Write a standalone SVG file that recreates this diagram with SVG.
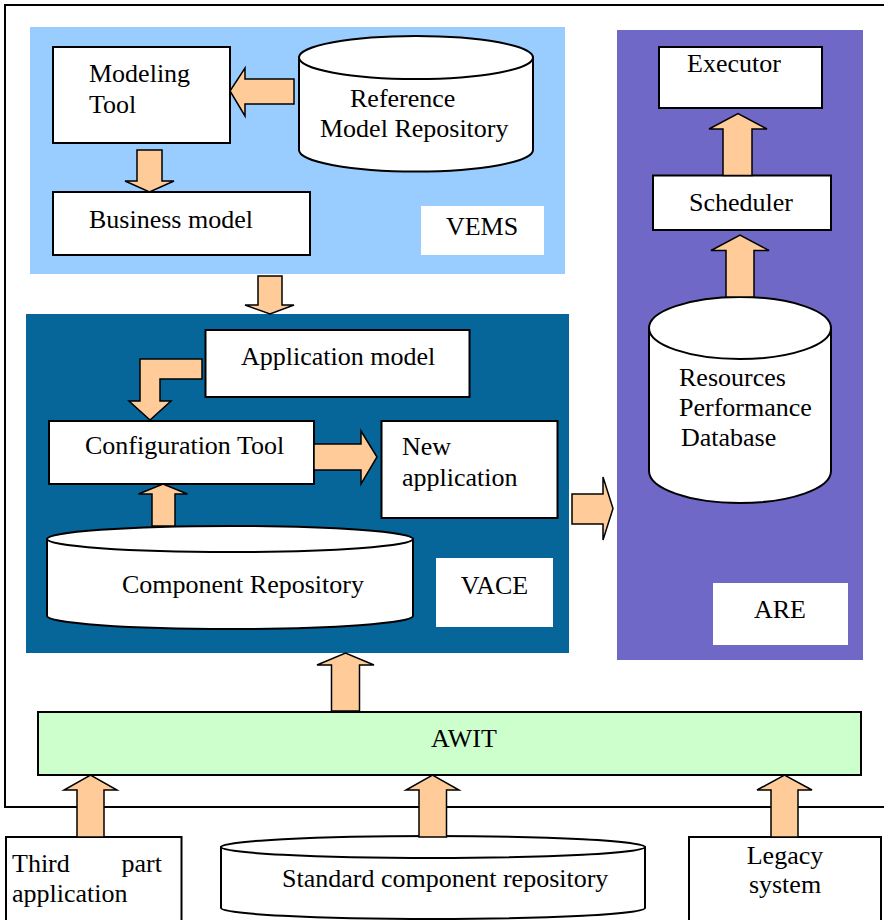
<svg xmlns="http://www.w3.org/2000/svg" width="884" height="920" viewBox="0 0 884 920" font-family="'Liberation Serif', 'DejaVu Serif', serif">
<style>
text{font-family:'Liberation Serif','DejaVu Serif',serif;font-size:26px;fill:#000}
.box{fill:#fff;stroke:#000;stroke-width:2}
.lbl{fill:#fff;stroke:none}
.cyl{fill:#fff;stroke:#000;stroke-width:2}
.arr{fill:#FFCC99;stroke:#000;stroke-width:1.5;stroke-linejoin:miter}
.c{text-anchor:middle}
</style>
<rect width="884" height="920" fill="#fff"/>
<g id="frame"><rect x="5" y="5" width="900" height="802" fill="none" stroke="#000" stroke-width="2"/></g>
<g id="VEMS">
<rect x="30" y="27" width="535" height="247" fill="#99CCFF"/>
<rect class="lbl" x="421" y="206" width="123" height="49"/>
<text class="c" x="482" y="235">VEMS</text>
</g>
<g id="VACE">
<rect x="26" y="314" width="543" height="339" fill="#066699"/>
<rect class="lbl" x="436" y="558" width="117" height="69"/>
<text class="c" x="494.5" y="594">VACE</text>
</g>
<g id="ARE">
<rect x="617" y="30" width="246" height="630" fill="#6F68C6"/>
<rect class="lbl" x="713" y="583" width="135" height="62"/>
<text class="c" x="780" y="618">ARE</text>
</g>
<g id="modeling-tool">
<rect class="box" x="53" y="47" width="177" height="96"/>
<text x="89" y="82">Modeling</text>
<text x="89" y="113">Tool</text>
</g>
<g id="reference-model-repository">
<path class="cyl" d="M299,57.5 L299,150 A117,21.5 0 0 0 533,150 L533,57.5 Z"/>
<ellipse class="cyl" cx="416" cy="57.5" rx="117" ry="21.5"/>
<text x="350" y="107">Reference</text>
<text x="320" y="137">Model Repository</text>
</g>
<g id="business-model">
<rect class="box" x="53" y="192" width="257" height="63"/>
<text x="89" y="228">Business model</text>
</g>
<g id="application-model">
<rect class="box" x="205.5" y="330" width="264" height="67"/>
<text x="241" y="365">Application model</text>
</g>
<g id="configuration-tool">
<rect class="box" x="49" y="421" width="265" height="63"/>
<text x="85" y="454">Configuration Tool</text>
</g>
<g id="new-application">
<rect class="box" x="381.5" y="421" width="176" height="97"/>
<text x="402" y="455">New</text>
<text x="402" y="486">application</text>
</g>
<g id="component-repository">
<path class="cyl" d="M47,539 L47,616 A183,13 0 0 0 413,616 L413,539 Z"/>
<ellipse class="cyl" cx="230" cy="539" rx="183" ry="13"/>
<text x="122" y="593">Component Repository</text>
</g>
<g id="executor">
<rect class="box" x="659" y="47" width="163" height="61"/>
<text x="687" y="71.5">Executor</text>
</g>
<g id="scheduler">
<rect class="box" x="653" y="175.5" width="178" height="54.5"/>
<text x="689" y="211">Scheduler</text>
</g>
<g id="resources-performance-database">
<path class="cyl" d="M649,328 L649,471 A91,32 0 0 0 831,471 L831,328 Z"/>
<ellipse class="cyl" cx="740" cy="328" rx="91" ry="31"/>
<text x="679" y="386">Resources</text>
<text x="679" y="416">Performance</text>
<text x="681" y="446">Database</text>
</g>
<g id="AWIT">
<rect x="38" y="712" width="823" height="63" fill="#CCFFCC" stroke="#000" stroke-width="2"/>
<text class="c" x="464" y="747">AWIT</text>
</g>
<g id="third-part-application">
<rect class="box" x="6" y="837" width="175.5" height="90"/>
<text x="12" y="872">Third</text>
<text x="162" y="872" text-anchor="end">part</text>
<text x="12" y="902">application</text>
</g>
<g id="standard-component-repository">
<path class="cyl" d="M221,847 L221,908 A212,11 0 0 0 645,908 L645,847 Z"/>
<ellipse class="cyl" cx="433" cy="847" rx="212" ry="11"/>
<text x="282" y="887">Standard component repository</text>
</g>
<g id="legacy-system">
<rect class="box" x="689" y="837" width="192" height="90"/>
<text class="c" x="785" y="864">Legacy</text>
<text class="c" x="785" y="893">system</text>
</g>
<g id="connectors">
<polygon class="arr" points="294,79 245,79 245,68 230,91 245,116 245,104 294,104"/>
<polygon class="arr" points="137,150 162,150 162,181 174,181 149.5,192 125,181 137,181"/>
<polygon class="arr" points="258,276 282,276 282,305 294,305 270,314 245,305 258,305"/>
<polygon class="arr" points="202,359 140,359 140,401 129,401 150,420 171,401 160,401 160,379 202,379"/>
<polygon class="arr" points="314,444 361,444 361,431 377,457 361,484 361,470 314,470"/>
<polygon class="arr" points="152,526 152,494 138.5,494 163,484 187.5,494 175,494 175,526"/>
<polygon class="arr" points="572,494 603,494 603,477 613,508.5 603,540 603,524 572,524"/>
<polygon class="arr" points="723,175.5 723,129 709,129 738,113.5 767,129 752,129 752,175.5"/>
<polygon class="arr" points="726,297 726,250.5 711,250.5 740,235 769,250.5 754,250.5 754,297"/>
<polygon class="arr" points="331.5,711 331.5,665 317,665 345.5,653 374,665 359.5,665 359.5,711"/>
<polygon class="arr" points="77,837 77,790 64,790 90.5,775 117,790 104,790 104,837"/>
<polygon class="arr" points="419,837 419,790 406,790 432.5,775 459,790 446.5,790 446.5,837"/>
<polygon class="arr" points="771,837 771,790 757,790 784.5,775 812,790 798,790 798,837"/>
</g>
</svg>
